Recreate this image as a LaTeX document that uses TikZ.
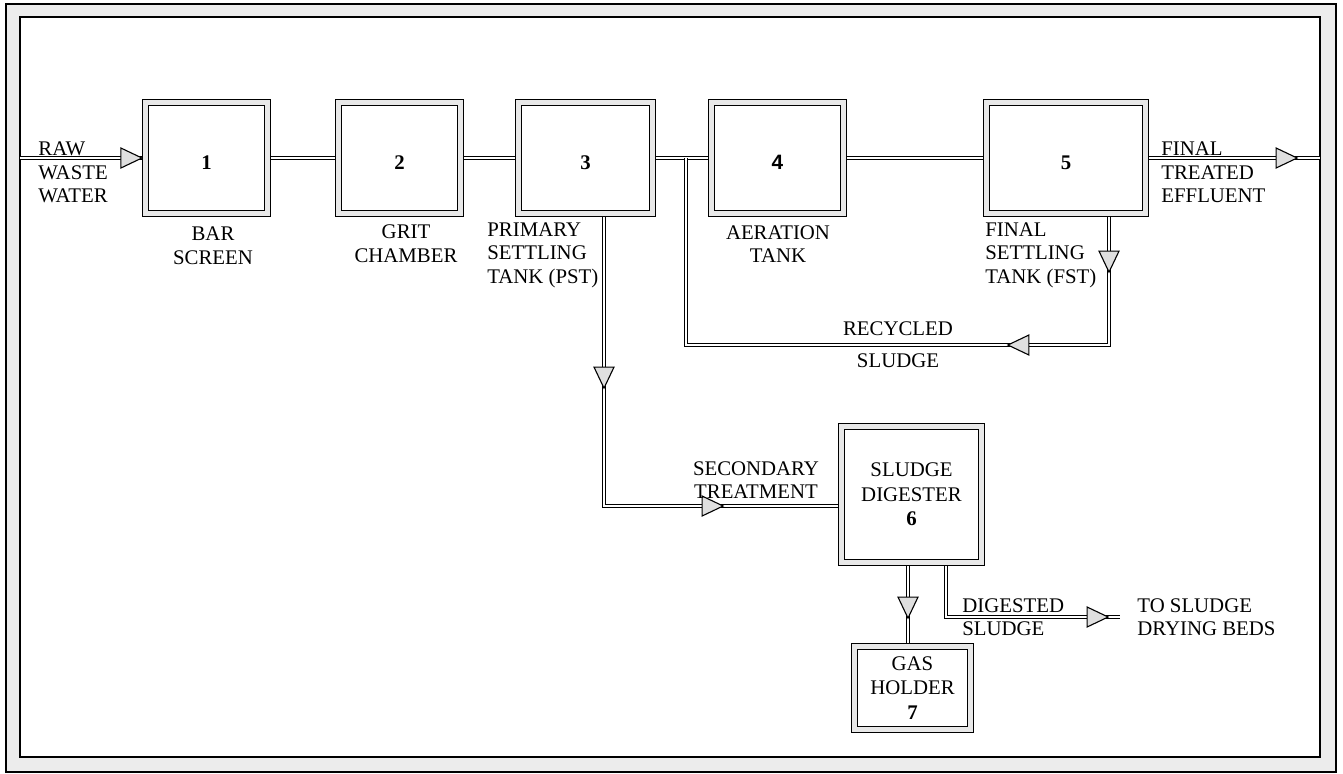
\documentclass[tikz,border=0pt]{standalone}
\usepackage{fontspec}
\setmainfont{Liberation Serif}
\newfontfamily\numsans{Liberation Sans}
\usetikzlibrary{decorations.markings}

\tikzset{
    tank/.style={draw, line width=0.6pt, double=gray!18, double distance=2.4pt, fill=white,
        outer sep=1.8pt, inner sep=0pt, align=center, font=\fontsize{10.4}{12.2}\selectfont},
    unit/.style={tank, minimum height=55.5pt, text height=11.5pt},
    pipe/.style={draw, line width=0.5pt, double=white, double distance=1.1pt},
    flow/.style={postaction={decorate, decoration={markings, mark=at position #1 with
        {\draw[line width=0.55pt, fill=gray!25] (0pt,0pt) -- (-10.5pt,5pt) -- (-10.5pt,-5pt) -- cycle;}}}},
    lbl/.style={inner sep=0pt, align=center, font=\fontsize{10.4}{11.8}\selectfont},
}

\begin{document}
\begin{tikzpicture}[x=0.5pt, y=-0.5pt]
        \useasboundingbox (0,0) rectangle (1343,773);

        % Frame
        \draw[line width=0.8pt, fill=gray!15] (6,4) rectangle (1336,772);
        \draw[line width=0.8pt, fill=white] (20,17) rectangle (1320,757);

        % Units
        \node[unit, minimum width=61pt] (b1) at (206.5,158) {\textbf{1}};
        \node[unit, minimum width=61pt] (b2) at (399.5,158) {\textbf{2}};
        \node[unit, minimum width=67pt] (b3) at (585.5,158) {\textbf{3}};
        \node[unit, minimum width=66pt] (b4) at (777.5,158) {\numsans\textbf{4}};
        \node[unit, minimum width=79.5pt] (b5) at (1066,158) {\textbf{5}};
        \node[tank, minimum width=70pt, minimum height=68pt] (b6) at (911.5,494.5) {SLUDGE\\DIGESTER\\\textbf{6}};
        \node[tank, minimum width=58pt, minimum height=41.5pt] (b7) at (912.5,688) {GAS\\HOLDER\\\textbf{7}};

        % Bends and free ends
        \coordinate (rawin) at (20,158);
        \coordinate (effout) at (1320,158);
        \coordinate (rcr) at (1109,345);
        \coordinate (rcl) at (686,345);
        \coordinate (pst) at (604,506);
        \coordinate (gasx) at (908,600);
        \coordinate (dig) at (946,617);
        \coordinate (dryend) at (1120,617);

        % Main line
        \draw[pipe, flow=1] (rawin) -- (b1.west);
        \draw[pipe] (b1) -- (b2);
        \draw[pipe] (b2) -- (b3);
        \draw[pipe] (b3) -- (b4);
        \draw[pipe] (b4) -- (b5);
        \draw[pipe, flow=74pt] (b5.east) -- (effout);

        % Sludge lines
        \draw[pipe, flow=27.5pt, flow=114.5pt] (b5.south -| rcr) -- (rcr) -- (rcl) -- (rcl |- b4.west);
        \draw[pipe, flow=85.5pt, flow=204pt] (b3.south -| pst) -- (pst) -- (pst -| b6.west);
        \draw[pipe, flow=26pt] (b6.south -| gasx) -- (b7.north -| gasx);
        \draw[pipe, flow=106.5pt] (b6.south -| dig) -- (dig) -- (dryend);

        % Labels
        \node[lbl, anchor=west, align=left] (rawlbl) at (38,172.5) {RAW\\WASTE\\WATER};
        \node[lbl] (barlbl) at (213,246) {BAR\\SCREEN};
        \node[lbl] (gritlbl) at (406,244) {GRIT\\CHAMBER};
        \node[lbl, anchor=west, align=left] (pstlbl) at (487,255) {PRIMARY\\SETTLING\\TANK (PST)};
        \node[lbl] (aerlbl) at (778,244) {AERATION\\TANK};
        \node[lbl, anchor=west, align=left] (fstlbl) at (985,255) {FINAL\\SETTLING\\TANK (FST)};
        \node[lbl, anchor=west, align=left] (efflbl) at (1161,172.5) {FINAL\\TREATED\\EFFLUENT};
        \node[lbl] (reclbl) at (898,329) {RECYCLED};
        \node[lbl] (sludlbl) at (898,361) {SLUDGE};
        \node[lbl] (seclbl) at (756,480) {SECONDARY\\TREATMENT};
        \node[lbl, anchor=west, align=left] (diglbl) at (962,617) {DIGESTED\\SLUDGE};
        \node[lbl, anchor=west, align=left] (drylbl) at (1137,617) {TO SLUDGE\\DRYING BEDS};
    \end{tikzpicture}
\end{document}
